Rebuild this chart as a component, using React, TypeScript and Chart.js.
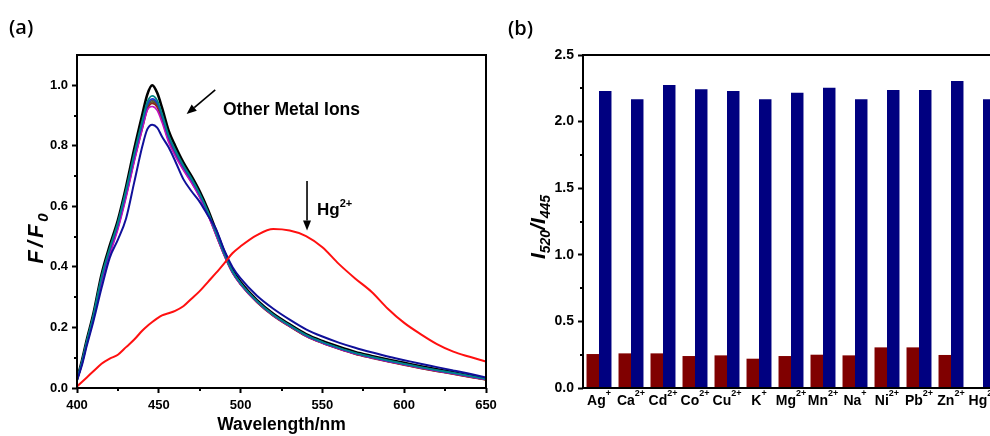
import React, { useEffect, useRef } from 'react';
import { Chart, registerables } from 'chart.js';

Chart.register(...registerables);

const FONT = 'Arial, "Liberation Sans", Helvetica, sans-serif';
Chart.defaults.font.family = FONT;
Chart.defaults.color = '#000';

// ---------------- Panel (a): fluorescence spectra ----------------
const WAVELENGTH = [400, 403, 406, 410, 415, 420, 425, 430, 435, 440, 443, 446, 449, 452, 456, 460, 465, 470, 475, 480, 485, 490, 495, 500, 510, 520, 530, 540, 550, 560, 570, 580, 590, 600, 610, 620, 630, 640, 650];

const F_BLACK = [0.030, 0.090, 0.160, 0.245, 0.375, 0.470, 0.555, 0.665, 0.790, 0.905, 0.970, 1.000, 0.975, 0.925, 0.850, 0.800, 0.745, 0.700, 0.650, 0.590, 0.520, 0.450, 0.390, 0.350, 0.290, 0.245, 0.210, 0.178, 0.155, 0.136, 0.119, 0.106, 0.094, 0.083, 0.072, 0.062, 0.052, 0.041, 0.031];
const F_TEAL = [0.028, 0.086, 0.155, 0.240, 0.368, 0.462, 0.547, 0.655, 0.775, 0.885, 0.945, 0.965, 0.950, 0.905, 0.835, 0.787, 0.736, 0.692, 0.642, 0.583, 0.514, 0.445, 0.386, 0.346, 0.287, 0.242, 0.207, 0.175, 0.152, 0.133, 0.116, 0.103, 0.091, 0.080, 0.069, 0.059, 0.050, 0.040, 0.030];
const F_BLUE = [0.027, 0.084, 0.152, 0.236, 0.362, 0.456, 0.541, 0.648, 0.767, 0.876, 0.936, 0.955, 0.942, 0.898, 0.829, 0.781, 0.731, 0.688, 0.639, 0.580, 0.512, 0.443, 0.385, 0.345, 0.286, 0.241, 0.206, 0.174, 0.151, 0.132, 0.115, 0.102, 0.090, 0.079, 0.068, 0.058, 0.049, 0.039, 0.029];
const F_GRAY = [0.027, 0.083, 0.150, 0.233, 0.358, 0.451, 0.537, 0.643, 0.762, 0.870, 0.930, 0.950, 0.937, 0.893, 0.825, 0.777, 0.728, 0.685, 0.636, 0.578, 0.510, 0.442, 0.384, 0.344, 0.285, 0.240, 0.205, 0.173, 0.150, 0.131, 0.114, 0.101, 0.089, 0.078, 0.067, 0.057, 0.048, 0.038, 0.028];
const F_OLIVE = [0.026, 0.082, 0.149, 0.231, 0.356, 0.448, 0.534, 0.639, 0.757, 0.865, 0.925, 0.945, 0.932, 0.889, 0.821, 0.774, 0.726, 0.683, 0.634, 0.576, 0.508, 0.440, 0.382, 0.343, 0.284, 0.239, 0.204, 0.172, 0.149, 0.130, 0.113, 0.100, 0.088, 0.077, 0.066, 0.056, 0.047, 0.037, 0.028];
const F_BROWN = [0.026, 0.080, 0.147, 0.229, 0.353, 0.445, 0.530, 0.635, 0.752, 0.860, 0.920, 0.940, 0.928, 0.886, 0.818, 0.771, 0.723, 0.680, 0.632, 0.574, 0.506, 0.439, 0.381, 0.342, 0.283, 0.238, 0.203, 0.171, 0.148, 0.129, 0.112, 0.099, 0.087, 0.076, 0.065, 0.055, 0.046, 0.036, 0.027];
const F_MAGENTA = [0.025, 0.078, 0.144, 0.226, 0.349, 0.440, 0.524, 0.629, 0.748, 0.858, 0.918, 0.930, 0.917, 0.877, 0.812, 0.767, 0.720, 0.678, 0.630, 0.572, 0.505, 0.438, 0.381, 0.342, 0.284, 0.239, 0.204, 0.172, 0.149, 0.130, 0.113, 0.100, 0.088, 0.077, 0.066, 0.056, 0.047, 0.037, 0.028];
const F_NAVY = [0.025, 0.075, 0.140, 0.220, 0.330, 0.430, 0.490, 0.560, 0.680, 0.800, 0.855, 0.870, 0.860, 0.830, 0.795, 0.750, 0.690, 0.650, 0.615, 0.570, 0.525, 0.455, 0.400, 0.362, 0.305, 0.262, 0.226, 0.194, 0.170, 0.150, 0.133, 0.118, 0.104, 0.092, 0.080, 0.069, 0.058, 0.047, 0.035];
const F_HG = [0.005, 0.020, 0.035, 0.055, 0.080, 0.097, 0.110, 0.135, 0.160, 0.190, 0.205, 0.218, 0.230, 0.240, 0.247, 0.255, 0.270, 0.295, 0.320, 0.350, 0.380, 0.412, 0.445, 0.468, 0.505, 0.525, 0.520, 0.502, 0.465, 0.410, 0.362, 0.318, 0.262, 0.215, 0.178, 0.145, 0.120, 0.103, 0.087];

const X_TICKS_A = [400, 450, 500, 550, 600, 650];
const X_MINOR_A = [425, 475, 525, 575, 625];
const Y_TICKS_A = [0, 0.2, 0.4, 0.6, 0.8, 1.0];
const Y_MINOR_A = [0.1, 0.3, 0.5, 0.7, 0.9];

// ---------------- Panel (b): ratio bars ----------------
const ION_SYMBOLS = ['Ag', 'Ca', 'Cd', 'Co', 'Cu', 'K', 'Mg', 'Mn', 'Na', 'Ni', 'Pb', 'Zn', 'Hg'];
const ION_CHARGES = ['+', '2+', '2+', '2+', '2+', '+', '2+', '2+', '+', '2+', '2+', '2+', '2+'];
const RATIO_ION = [0.255, 0.26, 0.26, 0.24, 0.245, 0.22, 0.24, 0.25, 0.245, 0.305, 0.305, 0.248, null];
const RATIO_ION_HG = [2.23, 2.167, 2.275, 2.243, 2.23, 2.167, 2.217, 2.255, 2.167, 2.237, 2.237, 2.305, 2.167];
const Y_TICKS_B = [0, 0.5, 1.0, 1.5, 2.0, 2.5];
const Y_MINOR_B = [0.25, 0.75, 1.25, 1.75, 2.25];

type Part = { t: string; size: number; dy?: number; italic?: boolean };

function fontStr(size: number, italic?: boolean) {
  return `${italic ? 'italic ' : ''}bold ${size}px ${FONT}`;
}

function drawRich(ctx: CanvasRenderingContext2D, x: number, y: number, parts: Part[], align: 'left' | 'center') {
  let total = 0;
  const widths = parts.map((p) => {
    ctx.font = fontStr(p.size, p.italic);
    const w = ctx.measureText(p.t).width;
    total += w;
    return w;
  });
  let cx = align === 'center' ? x - total / 2 : x;
  ctx.textAlign = 'left';
  ctx.textBaseline = 'alphabetic';
  parts.forEach((p, i) => {
    ctx.font = fontStr(p.size, p.italic);
    ctx.fillText(p.t, cx, y + (p.dy || 0));
    cx += widths[i];
  });
}

function drawArrow(ctx: CanvasRenderingContext2D, x1: number, y1: number, x2: number, y2: number) {
  const ang = Math.atan2(y2 - y1, x2 - x1);
  const hl = 10;
  const hw = 4;
  const bx = x2 - hl * Math.cos(ang);
  const by = y2 - hl * Math.sin(ang);
  ctx.beginPath();
  ctx.moveTo(x1, y1);
  ctx.lineTo(bx, by);
  ctx.lineWidth = 1.6;
  ctx.stroke();
  ctx.beginPath();
  ctx.moveTo(x2, y2);
  ctx.lineTo(bx + hw * Math.sin(ang), by - hw * Math.cos(ang));
  ctx.lineTo(bx - hw * Math.sin(ang), by + hw * Math.cos(ang));
  ctx.closePath();
  ctx.fill();
}

function drawFrame(ctx: CanvasRenderingContext2D, ca: any) {
  ctx.strokeStyle = '#000';
  ctx.lineWidth = 2;
  ctx.strokeRect(ca.left, ca.top, ca.right - ca.left, ca.bottom - ca.top);
}

const panelAPlugin = {
  id: 'panelA',
  afterDraw(chart: any) {
    const { ctx, chartArea: ca, scales } = chart;
    const sx = scales.x;
    const sy = scales.y;
    ctx.save();
    ctx.fillStyle = '#000';
    drawFrame(ctx, ca);
    ctx.beginPath();
    Y_MINOR_A.forEach((v) => {
      const py = Math.round(sy.getPixelForValue(v));
      ctx.moveTo(ca.left - 3, py);
      ctx.lineTo(ca.left, py);
    });
    X_MINOR_A.forEach((v) => {
      const px = Math.round(sx.getPixelForValue(v));
      ctx.moveTo(px, ca.bottom);
      ctx.lineTo(px, ca.bottom + 3);
    });
    ctx.lineWidth = 2;
    ctx.stroke();

    // annotation: other metal ions
    drawArrow(ctx, sx.getPixelForValue(484.5), sy.getPixelForValue(0.985), sx.getPixelForValue(467), sy.getPixelForValue(0.905));
    drawRich(ctx, sx.getPixelForValue(489.2), sy.getPixelForValue(0.901), [{ t: 'Other Metal Ions', size: 17.5 }], 'left');
    // annotation: Hg2+
    drawArrow(ctx, sx.getPixelForValue(540.6), sy.getPixelForValue(0.684), sx.getPixelForValue(540.6), sy.getPixelForValue(0.52));
    drawRich(ctx, sx.getPixelForValue(546.7), sy.getPixelForValue(0.572), [{ t: 'Hg', size: 17 }, { t: '2+', size: 11, dy: -8 }], 'left');

    // y title
    ctx.save();
    ctx.translate(35, 237);
    ctx.rotate(-Math.PI / 2);
    (ctx as any).letterSpacing = '3px';
    drawRich(ctx, 0, 8, [{ t: 'F/F', size: 22, italic: true }, { t: '0', size: 15, dy: 5, italic: true }], 'center');
    (ctx as any).letterSpacing = '0px';
    ctx.restore();

    // panel label
    ctx.font = `600 20px "Open Sans", ${FONT}`;
    ctx.textAlign = 'left';
    ctx.textBaseline = 'alphabetic';
    ctx.fillText('(a)', 9, 34);
    ctx.restore();
  },
};

const panelBPlugin = {
  id: 'panelB',
  afterDraw(chart: any) {
    const { ctx, chartArea: ca, scales } = chart;
    const sx = scales.x;
    const sy = scales.y;
    ctx.save();
    ctx.fillStyle = '#000';
    drawFrame(ctx, ca);
    ctx.beginPath();
    Y_MINOR_B.forEach((v) => {
      const py = Math.round(sy.getPixelForValue(v));
      ctx.moveTo(ca.left - 3, py);
      ctx.lineTo(ca.left, py);
    });
    ctx.lineWidth = 2;
    ctx.stroke();

    // category labels with superscript charges
    ION_SYMBOLS.forEach((sym, i) => {
      const px = sx.getPixelForValue(i);
      drawRich(ctx, px, ca.bottom + 17, [{ t: sym, size: 14 }, { t: ION_CHARGES[i], size: 9, dy: -9 }], 'center');
    });

    // y title
    ctx.save();
    ctx.translate(43, 227);
    ctx.rotate(-Math.PI / 2);
    drawRich(ctx, 0, 7, [
      { t: 'I', size: 21, italic: true },
      { t: '520', size: 14, dy: 5, italic: true },
      { t: '/I', size: 21, italic: true },
      { t: '445', size: 14, dy: 5, italic: true },
    ], 'center');
    ctx.restore();

    ctx.font = `600 20px "Open Sans", ${FONT}`;
    ctx.textAlign = 'left';
    ctx.textBaseline = 'alphabetic';
    ctx.fillText('(b)', 13, 35);
    ctx.restore();
  },
};

const SPECTRA = [
  { label: 'Hg2+', values: F_HG, color: '#ff1010', width: 2 },
  { label: 'ion (navy)', values: F_NAVY, color: '#10109a', width: 2 },
  { label: 'ion (teal)', values: F_TEAL, color: '#008585', width: 1.8 },
  { label: 'ion (blue)', values: F_BLUE, color: '#1a3ad0', width: 1.8 },
  { label: 'ion (magenta)', values: F_MAGENTA, color: '#c010c0', width: 1.6 },
  { label: 'ion (brown)', values: F_BROWN, color: '#8b2a1a', width: 1.8 },
  { label: 'ion (olive)', values: F_OLIVE, color: '#5a5a2a', width: 1.8 },
  { label: 'ion (gray)', values: F_GRAY, color: '#505050', width: 1.8 },
  { label: 'blank', values: F_BLACK, color: '#000000', width: 2.6 },
];

const axisTickFont = (size: number) => ({ family: FONT, size, weight: 'bold' as const });

export default function App() {
  const refA = useRef<HTMLCanvasElement>(null);
  const refB = useRef<HTMLCanvasElement>(null);

  useEffect(() => {
    const chartA = new Chart(refA.current as HTMLCanvasElement, {
      type: 'line',
      data: {
        datasets: SPECTRA.map((s) => ({
          label: s.label,
          data: WAVELENGTH.map((w, i) => ({ x: w, y: s.values[i] })),
          borderColor: s.color,
          borderWidth: s.width,
          pointRadius: 0,
          fill: false,
          cubicInterpolationMode: 'monotone' as const,
        })),
      },
      options: {
        responsive: false,
        animation: false,
        devicePixelRatio: 1,
        layout: { padding: { left: 0, top: 55, right: 24, bottom: 0 } },
        plugins: { legend: { display: false }, tooltip: { enabled: false } },
        scales: {
          x: {
            type: 'linear',
            min: 400,
            max: 650,
            afterBuildTicks: (s: any) => {
              s.ticks = X_TICKS_A.map((v) => ({ value: v }));
            },
            afterFit: (s: any) => {
              s.height = 48;
              s.paddingLeft = 0;
              s.paddingRight = 0;
            },
            ticks: { font: axisTickFont(13), color: '#000', padding: 5, maxRotation: 0, autoSkip: false, callback: (v: any) => String(v) },
            grid: { drawOnChartArea: false, drawTicks: true, tickLength: 5, tickWidth: 2, tickColor: '#000' },
            border: { display: false },
            title: { display: true, text: 'Wavelength/nm', color: '#000', font: { family: FONT, size: 17.5, weight: 'bold' }, padding: { top: 0, bottom: 0 } },
          },
          y: {
            type: 'linear',
            min: 0,
            max: 1.1,
            afterBuildTicks: (s: any) => {
              s.ticks = Y_TICKS_A.map((v) => ({ value: v }));
            },
            afterFit: (s: any) => {
              s.width = 77;
              s.paddingTop = 0;
              s.paddingBottom = 0;
            },
            ticks: { font: axisTickFont(13), color: '#000', padding: 4, autoSkip: false, callback: (v: any) => Number(v).toFixed(1) },
            grid: { drawOnChartArea: false, drawTicks: true, tickLength: 5, tickWidth: 2, tickColor: '#000' },
            border: { display: false },
          },
        },
      },
      plugins: [panelAPlugin],
    } as any);

    const chartB = new Chart(refB.current as HTMLCanvasElement, {
      type: 'bar',
      data: {
        labels: ION_SYMBOLS.map((s, i) => s + ION_CHARGES[i]),
        datasets: [
          { label: 'M', data: RATIO_ION, backgroundColor: '#800000', borderWidth: 0, categoryPercentage: 0.78, barPercentage: 1 },
          { label: 'M + Hg2+', data: RATIO_ION_HG, backgroundColor: '#000080', borderWidth: 0, categoryPercentage: 0.78, barPercentage: 1 },
        ],
      },
      options: {
        responsive: false,
        animation: false,
        devicePixelRatio: 1,
        layout: { padding: { left: 0, top: 55, right: 16, bottom: 0 } },
        plugins: { legend: { display: false }, tooltip: { enabled: false } },
        scales: {
          x: {
            afterFit: (s: any) => {
              s.height = 48;
              s.paddingLeft = 0;
              s.paddingRight = 0;
            },
            ticks: { display: false },
            grid: { display: false },
            border: { display: false },
          },
          y: {
            min: 0,
            max: 2.5,
            afterBuildTicks: (s: any) => {
              s.ticks = Y_TICKS_B.map((v) => ({ value: v }));
            },
            afterFit: (s: any) => {
              s.width = 88;
              s.paddingTop = 0;
              s.paddingBottom = 0;
            },
            ticks: { font: axisTickFont(14), color: '#000', padding: 4, autoSkip: false, callback: (v: any) => Number(v).toFixed(1) },
            grid: { drawOnChartArea: false, drawTicks: true, tickLength: 5, tickWidth: 2, tickColor: '#000' },
            border: { display: false },
          },
        },
      },
      plugins: [panelBPlugin],
    } as any);

    return () => {
      chartA.destroy();
      chartB.destroy();
    };
  }, []);

  return (
    <div style={{ position: 'fixed', left: 0, top: 0, width: 990, height: 436, overflow: 'hidden', background: '#fff' }}>
      <canvas ref={refA} width={510} height={436} style={{ position: 'absolute', left: 0, top: 0, width: 510, height: 436 }} />
      <canvas ref={refB} width={520} height={436} style={{ position: 'absolute', left: 495, top: 0, width: 520, height: 436 }} />
    </div>
  );
}
